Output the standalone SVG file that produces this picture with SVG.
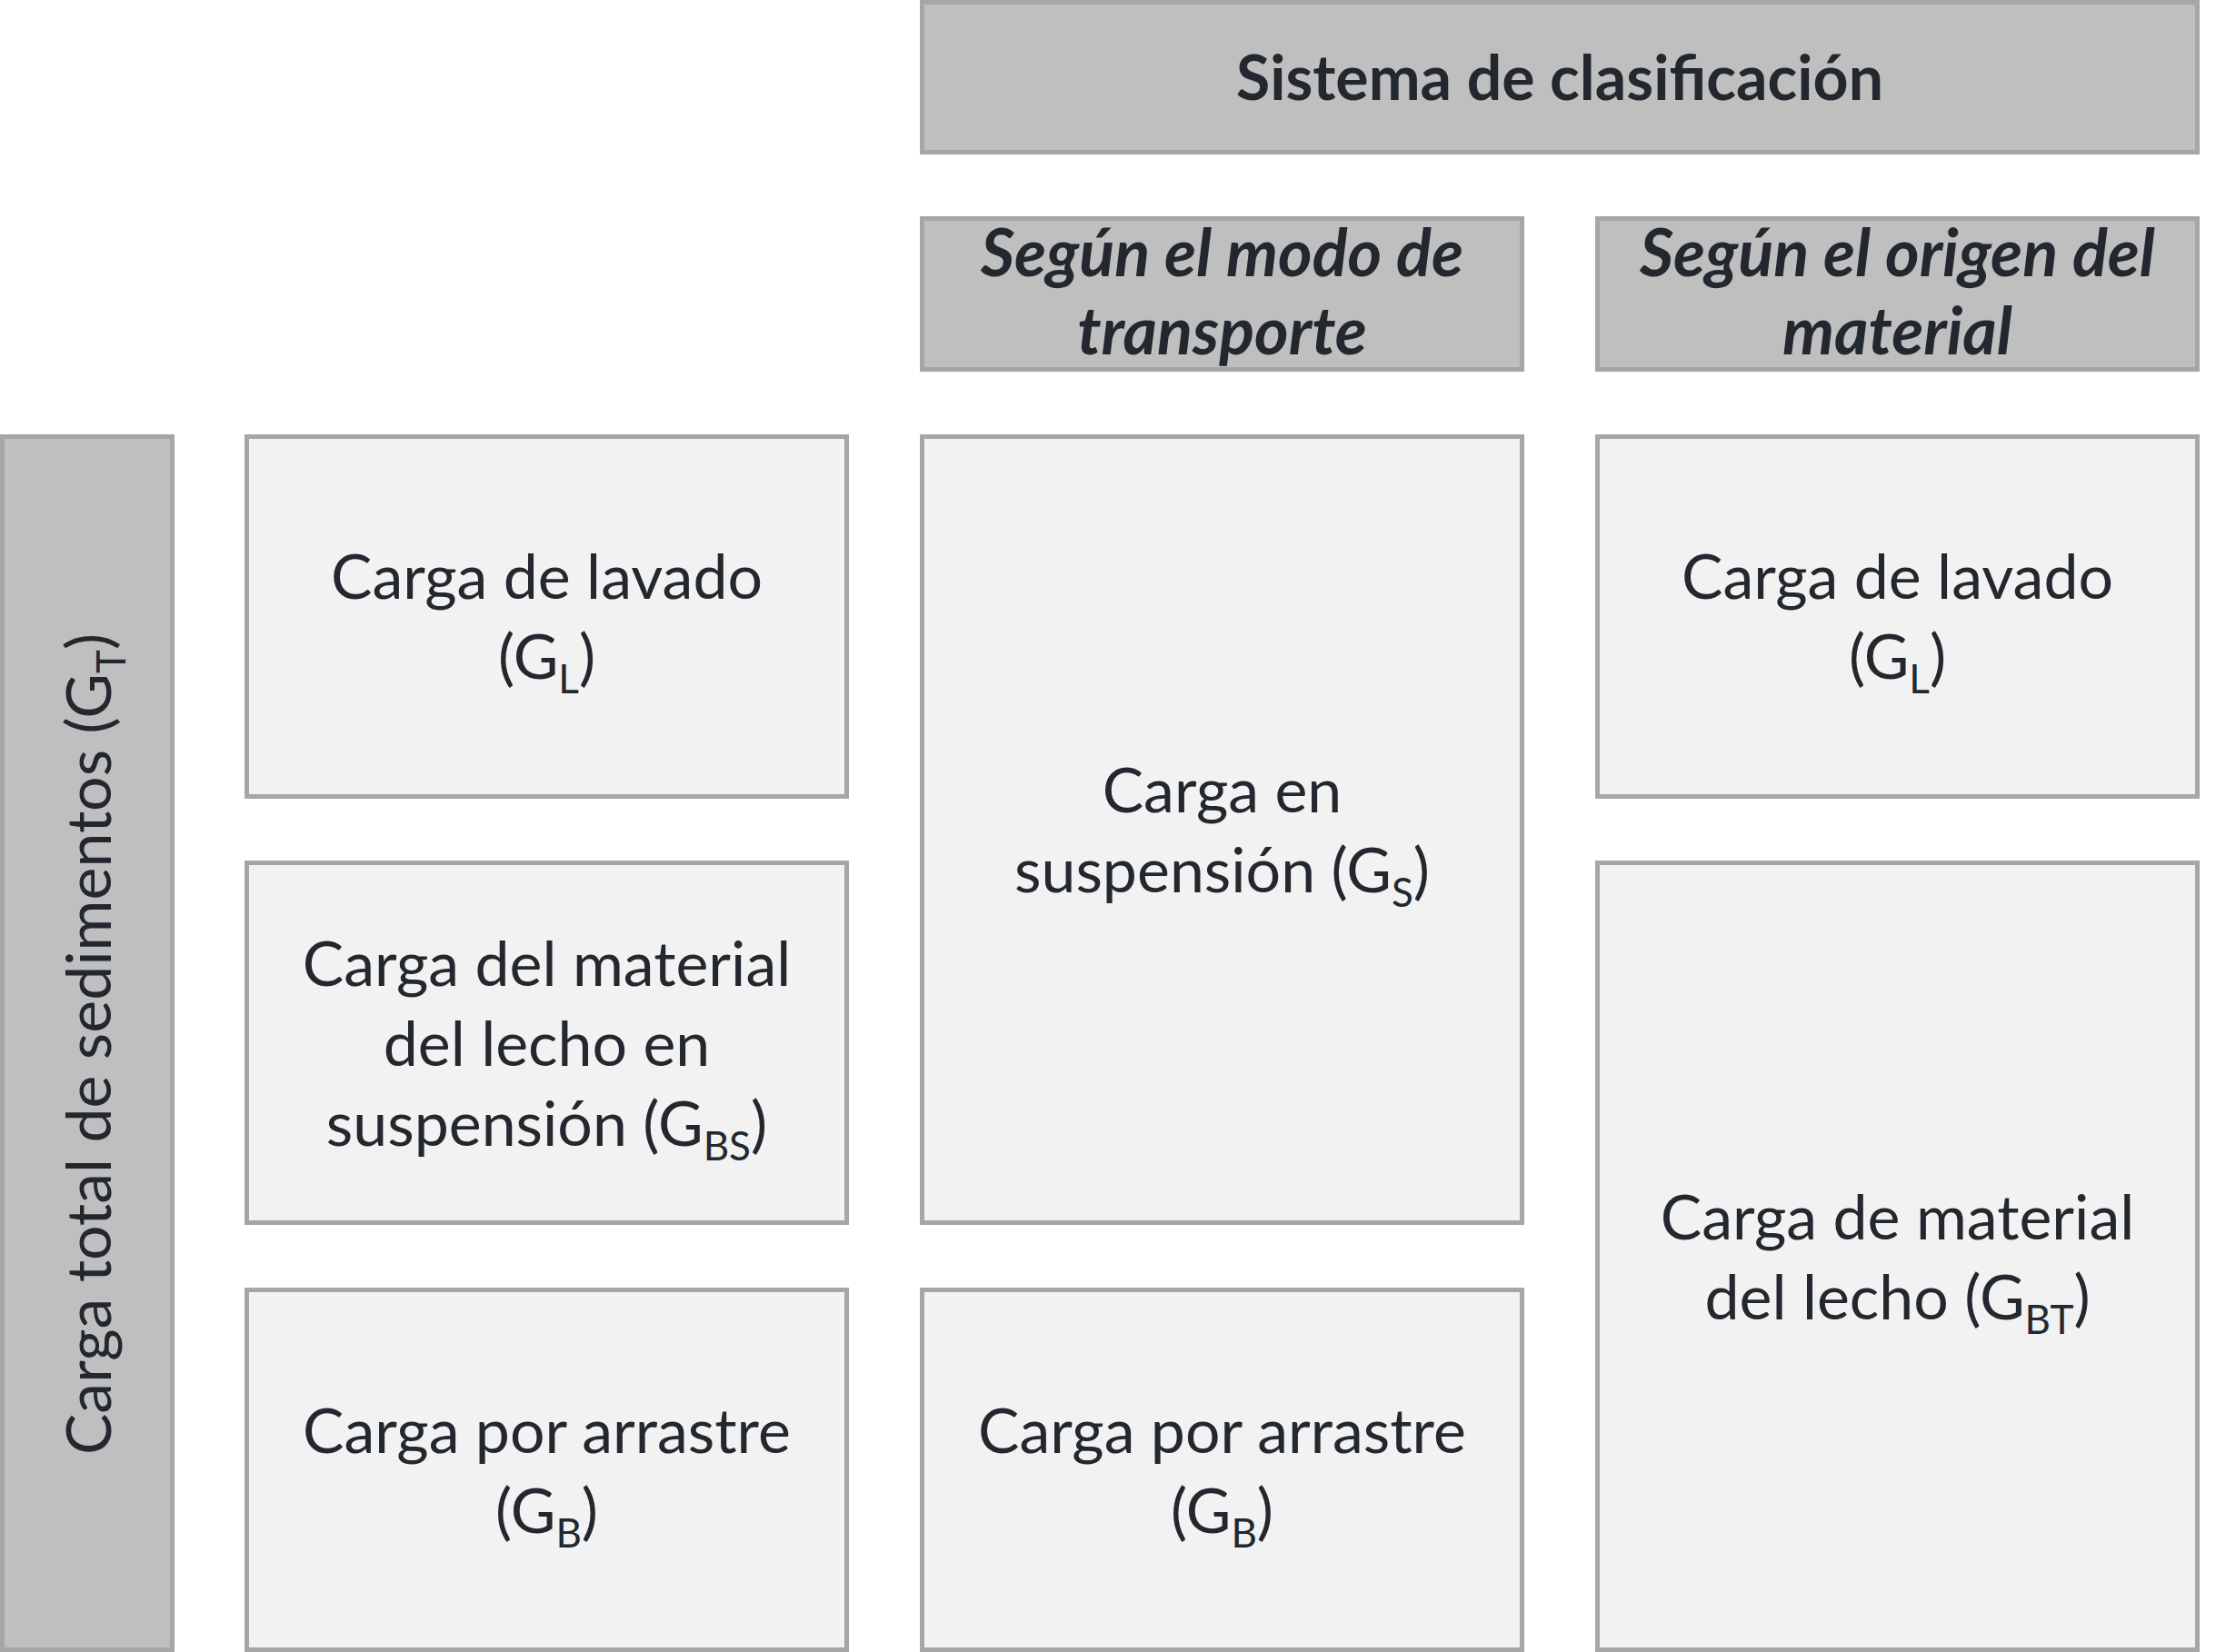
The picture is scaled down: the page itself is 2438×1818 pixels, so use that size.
<svg xmlns="http://www.w3.org/2000/svg" width="2438" height="1818" viewBox="0 0 2438 1818">
<style>
.dark{fill:#bfbfbf;stroke:#a6a6a6;stroke-width:5}
.light{fill:#f2f2f2;stroke:#a6a6a6;stroke-width:5}
text{font-family:Lato,"Open Sans","Liberation Sans",sans-serif;font-size:68px;fill:#23282f;text-anchor:middle}
.b{font-weight:bold}
.bi{font-weight:bold;font-style:italic;font-size:72px}
.s{font-size:44px}
</style>
<rect width="2438" height="1818" fill="#ffffff"/>
<g id="header">
<rect class="dark" x="1014.5" y="2.5" width="1403" height="165"/>
<text class="b" x="1716" y="110">Sistema de clasificación</text>
</g>
<g id="sub-modo">
<rect class="dark" x="1014.5" y="240.5" width="660" height="166"/>
<text class="bi" x="1344.5" y="304">Según el modo de</text>
<text class="bi" x="1344.5" y="390">transporte</text>
</g>
<g id="sub-origen">
<rect class="dark" x="1757.5" y="240.5" width="660" height="166"/>
<text class="bi" x="2087.5" y="304">Según el origen del</text>
<text class="bi" x="2087.5" y="390">material</text>
</g>
<g id="total">
<rect class="dark" x="2.5" y="480.5" width="187" height="1335"/>
<text transform="translate(122,1149) rotate(-90)" x="0" y="0">Carga total de sedimentos (G<tspan class="s" dy="16">T</tspan><tspan dy="-16">)</tspan></text>
</g>
<g id="c1-lavado">
<rect class="light" x="271.5" y="480.5" width="660" height="396"/>
<text x="601.5" y="659">Carga de lavado</text>
<text x="601.5" y="747">(G<tspan class="s" dy="16">L</tspan><tspan dy="-16">)</tspan></text>
</g>
<g id="c1-bs">
<rect class="light" x="271.5" y="949.5" width="660" height="396"/>
<text x="601.5" y="1084.5">Carga del material</text>
<text x="601.5" y="1172.5">del lecho en</text>
<text x="601.5" y="1260.5">suspensión (G<tspan class="s" dy="16">BS</tspan><tspan dy="-16">)</tspan></text>
</g>
<g id="c1-arrastre">
<rect class="light" x="271.5" y="1419.5" width="660" height="396"/>
<text x="601.5" y="1598.5">Carga por arrastre</text>
<text x="601.5" y="1686.5">(G<tspan class="s" dy="16">B</tspan><tspan dy="-16">)</tspan></text>
</g>
<g id="c2-suspension">
<rect class="light" x="1014.5" y="480.5" width="660" height="865"/>
<text x="1344.5" y="894">Carga en</text>
<text x="1344.5" y="982">suspensión (G<tspan class="s" dy="16">S</tspan><tspan dy="-16">)</tspan></text>
</g>
<g id="c2-arrastre">
<rect class="light" x="1014.5" y="1419.5" width="660" height="396"/>
<text x="1344.5" y="1598.5">Carga por arrastre</text>
<text x="1344.5" y="1686.5">(G<tspan class="s" dy="16">B</tspan><tspan dy="-16">)</tspan></text>
</g>
<g id="c3-lavado">
<rect class="light" x="1757.5" y="480.5" width="660" height="396"/>
<text x="2087.5" y="659">Carga de lavado</text>
<text x="2087.5" y="747">(G<tspan class="s" dy="16">L</tspan><tspan dy="-16">)</tspan></text>
</g>
<g id="c3-bt">
<rect class="light" x="1757.5" y="949.5" width="660" height="866"/>
<text x="2087.5" y="1364">Carga de material</text>
<text x="2087.5" y="1452">del lecho (G<tspan class="s" dy="16">BT</tspan><tspan dy="-16">)</tspan></text>
</g>
<g id="connectors"></g>
</svg>
